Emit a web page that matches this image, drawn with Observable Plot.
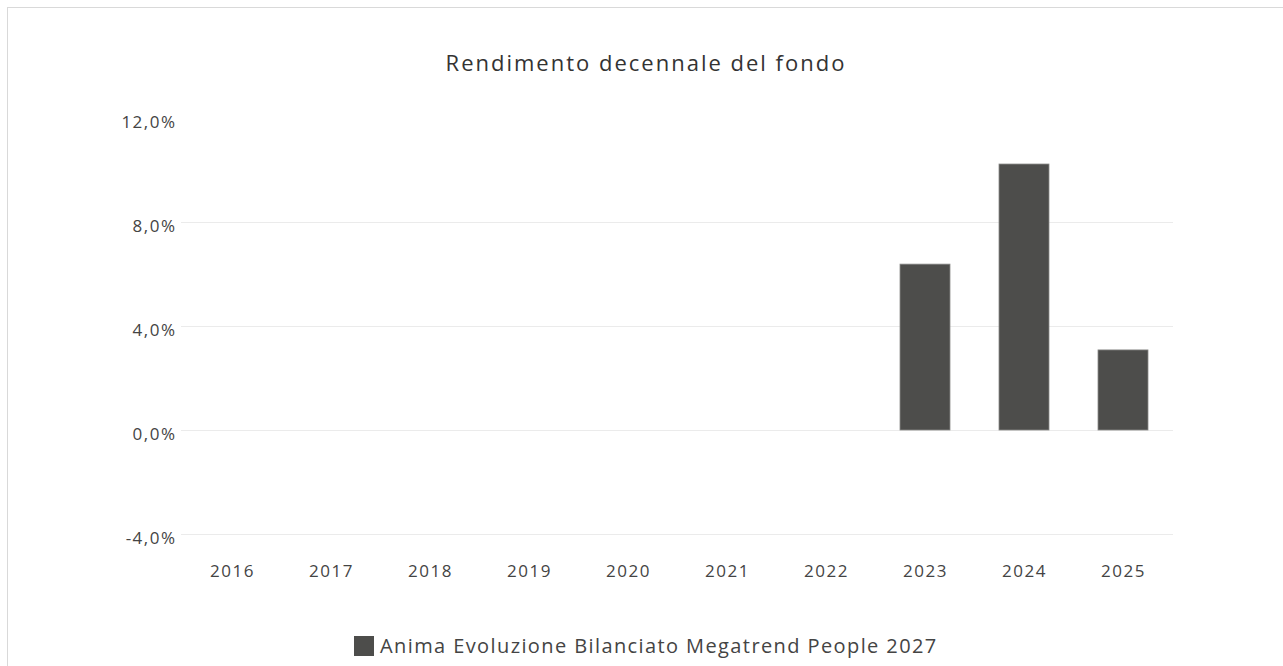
<!DOCTYPE html>
<html>
<head>
<meta charset="utf-8">
<script src="https://cdn.jsdelivr.net/npm/d3@7"></script>
<script src="https://cdn.jsdelivr.net/npm/@observablehq/plot@0.6"></script>
<style>
  html, body { margin: 0; padding: 0; background: #fff; }
  body { width: 1283px; height: 666px; position: relative; overflow: hidden; font-family: "Open Sans", sans-serif; }
  #frame { position: absolute; left: 7px; top: 7px; width: 1300px; height: 700px; border-top: 1px solid #d9d9d9; border-left: 1px solid #d9d9d9; }
  #title { position: absolute; left: 0; width: 1292px; top: 47px; text-align: center; font-size: 22px; letter-spacing: 2px; color: #333; }
  #chart { position: absolute; left: 0; top: 90px; }
  #legend { position: absolute; left: 354px; top: 632px; display: flex; align-items: center; font-size: 20px; letter-spacing: 1.4px; color: #444; }
  #legend .sw { width: 20px; height: 20px; background: #4d4d4b; margin-right: 6px; }
</style>
</head>
<body>
<div id="frame"></div>
<div id="title">Rendimento decennale del fondo</div>
<div id="chart"></div>
<div id="legend"><div class="sw"></div><span id="legendText"></span></div>
<script>
const years = ["2016","2017","2018","2019","2020","2021","2022","2023","2024","2025"];
const returns = [null, null, null, null, null, null, null, 6.38, 10.23, 3.08];
const yTicks = [-4, 0, 4, 8, 12];
const gridTicks = [-4, 0, 4, 8];
const seriesName = "Anima Evoluzione Bilanciato Megatrend People 2027";

document.getElementById("legendText").textContent = seriesName;

const data = years.map((y, i) => ({year: y, value: returns[i]})).filter(d => d.value != null);
const fmt = v => (v < 0 ? "-" : "") + d3.format(".1f")(Math.abs(v)).replace(".", ",") + "%";

const chart = Plot.plot({
  width: 1283,
  height: 500,
  marginLeft: 181,
  marginRight: 110,
  marginTop: 28,
  marginBottom: 56,
  style: {fontFamily: "'Open Sans', sans-serif", fontSize: "17px", letterSpacing: "1.5px", color: "#444", background: "transparent"},
  x: {domain: years, paddingInner: 0.5, paddingOuter: 0.25, label: null},
  y: {domain: [-4, 12], label: null},
  marks: [
    Plot.ruleY(gridTicks, {stroke: "#ebebeb", strokeWidth: 1}),
    Plot.barY(data, {x: "year", y: "value", fill: "#4d4d4b", stroke: "#8a8a88", strokeWidth: 0.8}),
    Plot.axisY({ticks: yTicks, tickFormat: fmt, tickSize: 0, tickPadding: 5, dy: 4, fill: "#444"}),
    Plot.axisX({tickSize: 0, tickPadding: 30, fill: "#444"})
  ]
});
document.getElementById("chart").appendChild(chart);
</script>
</body>
</html>
